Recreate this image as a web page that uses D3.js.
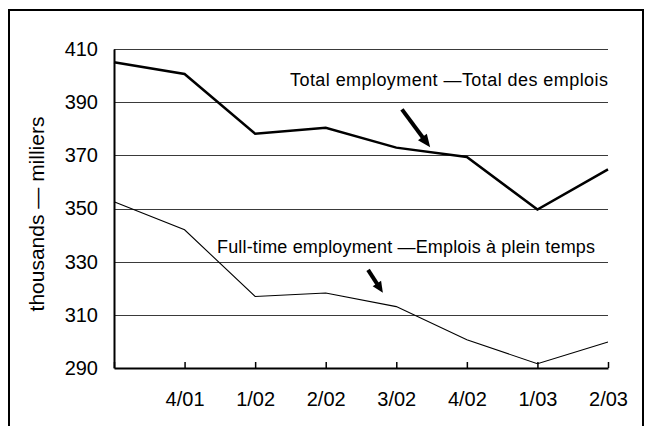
<!DOCTYPE html>
<html><head><meta charset="utf-8">
<script src="https://cdn.jsdelivr.net/npm/d3@7"></script>
<style>
html,body{margin:0;padding:0;background:#fff;}
svg{display:block;font-family:"Liberation Sans",Arial,sans-serif;}
</style></head>
<body>
<svg id="chart" width="645" height="426"></svg>
<script>
const categories = ["3/01","4/01","1/02","2/02","3/02","4/02","1/03","2/03"];
const tickLabels = ["","4/01","1/02","2/02","3/02","4/02","1/03","2/03"];
const totalEmployment = [405.0, 400.6, 378.1, 380.4, 372.9, 369.4, 349.6, 364.7];
const fullTimeEmployment = [352.5, 342.0, 316.9, 318.2, 313.1, 300.6, 291.6, 299.8];
const yTicks = [290, 310, 330, 350, 370, 390, 410];
const yTitle = "thousands \u2014 milliers";
const totalLabel = "Total employment \u2014Total des emplois";
const fullLabel = "Full-time employment \u2014Emplois \u00e0 plein temps";
// annotation anchors in data space: [index, value]
const totalLabelAnchor = [7.0, 396.1];
const fullLabelAnchor = [6.816, 333.1];
const totalArrow = [[4.08, 387.3], [4.48, 373.0]];
const fullArrow = [[3.60, 326.9], [3.81, 318.3]];

(function(){
const svg = d3.select("#chart");
const mLeft = 114, mRight = 608, mTop = 49, mBottom = 368;

const x = d3.scalePoint().domain(categories).range([mLeft, mRight]);
const xi = d3.scaleLinear().domain([0, categories.length - 1]).range([mLeft, mRight]);
const y = d3.scaleLinear().domain([290, 410]).range([mBottom, mTop]);

// outer frame
svg.append("path").attr("d", `M9,430 V10 H643 V430`).attr("fill","none").attr("stroke","#000").attr("stroke-width",2);

// gridlines
svg.append("g").selectAll("line").data(yTicks.filter(v => v > 290)).join("line")
  .attr("x1", mLeft).attr("x2", mRight)
  .attr("y1", d => Math.round(y(d)) + 0.5).attr("y2", d => Math.round(y(d)) + 0.5)
  .attr("stroke", "#3a3a3a").attr("stroke-width", 1);

// y axis
const yAxis = d3.axisLeft(y).tickValues(yTicks).tickSize(0).tickPadding(16).tickFormat(d3.format("d"));
const gy = svg.append("g").attr("transform", `translate(${mLeft},0)`).call(yAxis);
gy.select(".domain").attr("stroke","#000").attr("stroke-width",2);
gy.selectAll("text").attr("font-size", 20).attr("fill","#000")
  .attr("font-family","'Liberation Sans',Arial,sans-serif");

// x axis
const xAxis = d3.axisBottom(x).tickSizeInner(-6).tickSizeOuter(0).tickPadding(24)
  .tickFormat((d,i) => tickLabels[i]);
const gx = svg.append("g").attr("transform", `translate(0,${mBottom})`).call(xAxis);
gx.select(".domain").attr("stroke","#000").attr("stroke-width",2);
gx.selectAll(".tick line").attr("stroke","#000").attr("stroke-width",1.5);
gx.selectAll("text").attr("font-size", 20).attr("fill","#000")
  .attr("font-family","'Liberation Sans',Arial,sans-serif");

// y title
svg.append("text").attr("transform", `translate(44,214) rotate(-90)`)
  .attr("text-anchor","middle").attr("font-size", 21).attr("fill","#000").text(yTitle);

// lines
const line = d3.line().x((d,i) => x(categories[i])).y(d => y(d));
svg.append("path").datum(totalEmployment).attr("d", line)
  .attr("fill","none").attr("stroke","#000").attr("stroke-width",2.5).attr("stroke-linejoin","miter");
svg.append("path").datum(fullTimeEmployment).attr("d", line)
  .attr("fill","none").attr("stroke","#000").attr("stroke-width",1.1);

// labels
function label(txt, anchor, len) {
  svg.append("text").attr("x", xi(anchor[0])).attr("y", y(anchor[1]))
    .attr("text-anchor","end").attr("font-size", 18).attr("fill","#000")
    .attr("textLength", len).attr("lengthAdjust","spacing").text(txt);
}
label(totalLabel, totalLabelAnchor, 318);
label(fullLabel, fullLabelAnchor, 378);

// arrows
function arrow(a, shaft, headLen, headW) {
  const x0 = xi(a[0][0]), y0 = y(a[0][1]), x1 = xi(a[1][0]), y1 = y(a[1][1]);
  const dx = x1 - x0, dy = y1 - y0, L = Math.hypot(dx, dy);
  const ux = dx / L, uy = dy / L, px = -uy, py = ux;
  const bx = x1 - ux * headLen, by = y1 - uy * headLen;
  svg.append("line").attr("x1", x0).attr("y1", y0).attr("x2", bx + ux).attr("y2", by + uy)
    .attr("stroke","#000").attr("stroke-width", shaft);
  svg.append("path").attr("d", d3.line()([[x1,y1],[bx+px*headW/2,by+py*headW/2],[bx-px*headW/2,by-py*headW/2]]) + "Z")
    .attr("fill","#000");
}
arrow(totalArrow, 4, 13, 11);
arrow(fullArrow, 4, 11, 10);
})();
</script>
</body></html>
